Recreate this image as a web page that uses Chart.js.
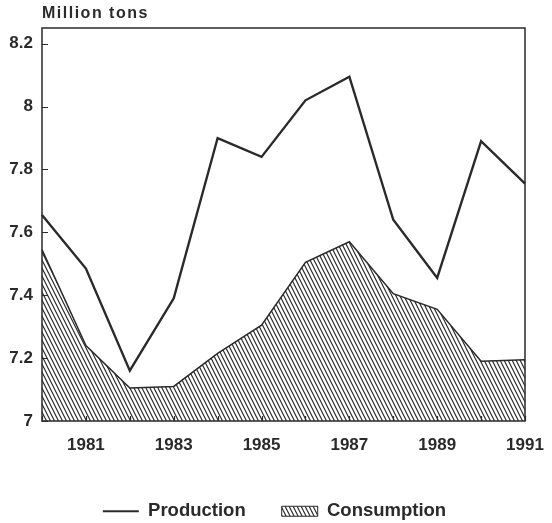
<!DOCTYPE html>
<html>
<head>
<meta charset="utf-8">
<script src="https://cdn.jsdelivr.net/npm/chart.js@4.4.0/dist/chart.umd.min.js"></script>
<style>
  html, body { margin: 0; padding: 0; background: #fff; }
  #wrap { width: 552px; height: 523px; }
</style>
</head>
<body>
<div id="wrap"><canvas id="chart"></canvas></div>
<script>
// Data
const years = ['1980', '1981', '1982', '1983', '1984', '1985', '1986', '1987', '1988', '1989', '1990', '1991'];
const xTickLabels = ['1981', '1983', '1985', '1987', '1989', '1991'];
const yTicks = [7, 7.2, 7.4, 7.6, 7.8, 8, 8.2];
const production = [7.655, 7.485, 7.16, 7.39, 7.9, 7.84, 8.02, 8.095, 7.64, 7.455, 7.89, 7.755];
const consumption = [7.545, 7.24, 7.105, 7.11, 7.215, 7.305, 7.505, 7.57, 7.405, 7.355, 7.19, 7.195];
const unitLabel = 'Million tons';

const ink = '#2a2a2a';
const fontFamily = '"Liberation Sans", Arial, Helvetica, sans-serif';

// steep diagonal hatch used for the consumption area
function makeHatch() {
    const c = document.createElement('canvas');
    c.width = 4;
    c.height = 8;
    const g = c.getContext('2d');
    g.strokeStyle = ink;
    g.lineWidth = 1.2;
    g.beginPath();
    [-4, 0, 4].forEach(k => {
        g.moveTo(k - 0.5, -1);
        g.lineTo(k + 4.5, 9);
    });
    g.stroke();
    return g.createPattern(c, 'repeat');
}
const hatch = makeHatch();

// box round the plot, inward tick marks and the unit label
const framePlugin = {
    id: 'frame',
    afterLayout(chart) {
        // let the y labels use the whole left margin (no clipping)
        const y = chart.scales.y;
        y.left = 0;
        y.width = y.right;
    },
    afterDatasetsDraw(chart) {
        const { ctx, chartArea: a, scales: { x, y } } = chart;
        ctx.save();
        ctx.strokeStyle = ink;
        ctx.lineWidth = 1.5;
        ctx.strokeRect(a.left, a.top, a.right - a.left, a.bottom - a.top);
        ctx.beginPath();
        y.ticks.forEach(t => {
            const py = Math.round(y.getPixelForValue(t.value)) + 0.5;
            ctx.moveTo(a.left, py);
            ctx.lineTo(a.left + 6, py);
        });
        x.ticks.forEach((t, i) => {
            const px = Math.round(x.getPixelForTick(i)) + 0.5;
            ctx.moveTo(px, a.bottom);
            ctx.lineTo(px, a.bottom - 5);
        });
        ctx.lineWidth = 1.2;
        ctx.stroke();

        ctx.fillStyle = ink;
        ctx.font = 'bold 16px ' + fontFamily;
        ctx.letterSpacing = '1.5px';
        ctx.textAlign = 'left';
        ctx.textBaseline = 'alphabetic';
        ctx.fillText(unitLabel, a.left, 18);
        ctx.restore();
    }
};

Chart.defaults.font.family = fontFamily;
Chart.defaults.font.weight = 'bold';
Chart.defaults.font.size = 17;
Chart.defaults.color = ink;

const ctx = document.getElementById('chart').getContext('2d');
new Chart(ctx, {
    type: 'line',
    data: {
        labels: years,
        datasets: [{
            label: 'Production',
            data: production,
            borderColor: ink,
            borderWidth: 2.4,
            pointRadius: 0,
            tension: 0,
            fill: false
        }, {
            label: 'Consumption',
            data: consumption,
            borderColor: ink,
            borderWidth: 1.5,
            backgroundColor: hatch,
            pointRadius: 0,
            tension: 0,
            fill: 'start'
        }]
    },
    options: {
        responsive: true,
        maintainAspectRatio: false,
        animation: false,
        layout: {
            padding: { top: 28, right: 27, left: 24, bottom: 0 }
        },
        plugins: {
            title: { display: false },
            tooltip: { enabled: false },
            legend: {
                position: 'bottom',
                maxHeight: 57,
                labels: {
                    usePointStyle: true,
                    pointStyleWidth: 36,
                    boxHeight: 10,
                    padding: 36,
                    color: ink,
                    font: { size: 18.5, weight: 'bold' },
                    generateLabels: chart => chart.data.datasets.map((ds, i) => ({
                        text: ds.label,
                        datasetIndex: i,
                        fontColor: ink,
                        pointStyle: i === 0 ? 'line' : 'rect',
                        strokeStyle: ink,
                        fillStyle: i === 0 ? ink : hatch,
                        lineWidth: i === 0 ? 2 : 1
                    }))
                }
            }
        },
        scales: {
            x: {
                type: 'category',
                offset: false,
                grid: { display: false, drawTicks: false },
                border: { display: false },
                ticks: {
                    autoSkip: false,
                    maxRotation: 0,
                    padding: 14,
                    callback: function(value) {
                        const label = this.getLabelForValue(value);
                        return xTickLabels.includes(label) ? label : '';
                    }
                },
                afterFit: scale => {
                    scale.height = 45;
                    scale.paddingLeft = 0;
                    scale.paddingRight = 0;
                }
            },
            y: {
                min: 7,
                max: 8.25,
                grid: { display: false, drawTicks: false },
                border: { display: false },
                afterBuildTicks: scale => { scale.ticks = yTicks.map(v => ({ value: v })); },
                ticks: {
                    padding: 9,
                    callback: value => String(value)
                },
                afterFit: scale => { scale.width = 18; }
            }
        }
    },
    plugins: [framePlugin]
});
</script>
</body>
</html>
